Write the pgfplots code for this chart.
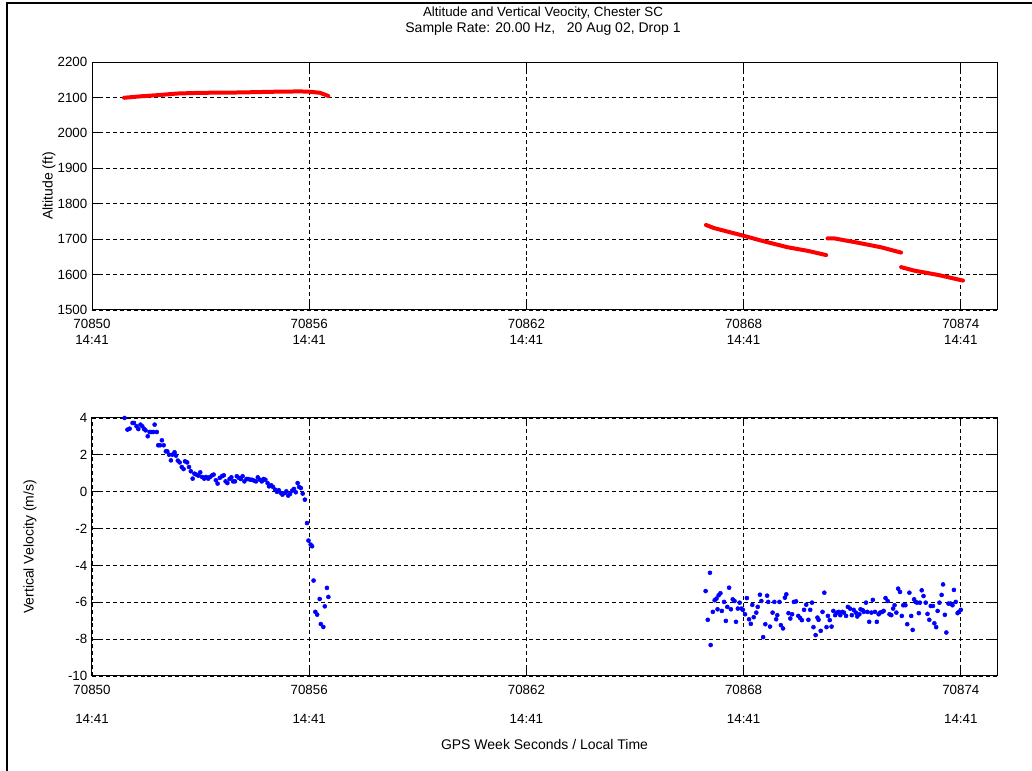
\documentclass[border=0pt]{standalone}
\usepackage{pgfplots}
\pgfplotsset{compat=1.18}
\usepackage{fontspec}
\setmainfont{Liberation Sans}
\begin{document}
\begin{tikzpicture}
\useasboundingbox (0,0) rectangle (774pt,578.25pt);
\draw[line width=1.5pt] (5.25pt,0) -- (5.25pt,576pt) -- (774pt,576pt);
\node[align=center, font=\fontsize{10.5}{12}\selectfont, anchor=center] at (407.25pt,562.5pt)
  {{\fontsize{10}{12}\selectfont Altitude and Vertical Veocity, Chester SC}\\Sample Rate: 20.00 Hz,\ \ \ 20 Aug 02,\ Drop 1};
\pgfplotsset{
  mystyle/.style={
    scale only axis, width=678.75pt,
    xmin=70850, xmax=70875,
    xtick={70850,70856,70862,70868,70874},
    scaled x ticks=false, scaled y ticks=false,
    grid=major,
    major grid style={black, line width=0.6pt, dash pattern=on 3pt off 2.2pt},
    axis line style={black, line width=0.75pt},
    tick style={black, line width=0.75pt},
    major tick length=6pt,
    tick align=inside,
    tick label style={font=\fontsize{10}{12}\selectfont},
    label style={font=\fontsize{10.5}{12}\selectfont},
    xticklabel style={align=center, yshift=-3pt},
    clip=false,
  }
}
\begin{axis}[mystyle,
  at={(69pt,345.75pt)}, anchor=south west, height=186pt,
  ymin=1500, ymax=2200, ytick={1500,1600,...,2200},
  yticklabels={1500,1600,1700,1800,1900,2000,2100,2200},
  xticklabels={70850\\14:41,70856\\14:41,70862\\14:41,70868\\14:41,70874\\14:41},
  ylabel={Altitude (ft)},
  ylabel style={at={(axis description cs:-0.0475,0.5)}, anchor=center},
]
\addplot[red, line width=3pt, line cap=round, line join=round] coordinates {
(70850.885,2099) (70851.33,2103) (70851.88,2107) (70852.35,2111) (70852.99,2113)
(70854.09,2114) (70855.0,2116) (70855.75,2117) (70856.03,2116) (70856.3,2113) (70856.53,2104)
};
\addplot[red, line width=3pt, line cap=round, line join=round] coordinates {
(70866.96,1740) (70867.19,1731) (70868.02,1709) (70868.48,1696) (70869.22,1677) (70869.77,1667) (70870.28,1655)
};
\addplot[red, line width=3pt, line cap=round, line join=round] coordinates {
(70870.32,1702) (70870.51,1702) (70871.15,1690) (70871.80,1677) (70872.35,1662)
};
\addplot[red, line width=3pt, line cap=round, line join=round] coordinates {
(70872.35,1621) (70872.72,1611) (70873.37,1599) (70874.06,1583)
};
\end{axis}
\begin{axis}[mystyle,
  at={(69pt,71.25pt)}, anchor=south west, height=193.5pt,
  ymin=-10, ymax=4, ytick={-10,-8,...,4},
  yticklabels={-10,-8,-6,-4,-2,0,2,4},
  xticklabels={70850\\[10pt]14:41,70856\\[10pt]14:41,70862\\[10pt]14:41,70868\\[10pt]14:41,70874\\[10pt]14:41},
  ylabel={Vertical Velocity (m/s)},
  ylabel style={at={(axis description cs:-0.0685,0.5)}, anchor=center},
  xlabel={GPS Week Seconds / Local Time},
  xlabel style={at={(axis description cs:0.5,-0.267)}, anchor=center},
]
\addplot[only marks, blue, mark=*, mark size=1.5pt, mark options={draw=blue, fill=blue}] coordinates {
(70850.90,4.0) (70850.98,3.37) (70851.04,3.42) (70851.12,3.73) (70851.16,3.73) (70851.23,3.55)
(70851.28,3.40) (70851.34,3.64) (70851.39,3.55) (70851.44,3.40) (70851.48,3.33) (70851.54,3.01)
(70851.59,3.24) (70851.63,3.24) (70851.69,3.24) (70851.73,3.64) (70851.79,3.24) (70851.83,2.52)
(70851.88,2.52) (70851.93,2.79) (70851.98,2.52) (70852.04,2.19) (70852.08,2.19) (70852.13,2.01)
(70852.18,1.70) (70852.22,2.01) (70852.28,2.14) (70852.32,1.96) (70852.37,1.69) (70852.42,1.59)
(70852.48,1.34) (70852.53,1.23) (70852.57,1.65) (70852.63,1.59) (70852.68,1.34) (70852.73,1.11)
(70852.78,0.71) (70852.83,0.98) (70852.88,0.93) (70852.94,0.87) (70852.99,1.05) (70853.04,0.80)
(70853.10,0.71) (70853.15,0.80) (70853.21,0.71) (70853.26,0.80) (70853.32,0.89) (70853.36,0.93)
(70853.42,0.62) (70853.47,0.44) (70853.53,0.75) (70853.59,0.84) (70853.64,0.89) (70853.69,0.56)
(70853.74,0.47) (70853.80,0.69) (70853.85,0.78) (70853.90,0.56) (70853.95,0.56) (70854.00,0.84)
(70854.06,0.75) (70854.11,0.69) (70854.16,0.84) (70854.21,0.56) (70854.27,0.69) (70854.31,0.69)
(70854.37,0.65) (70854.42,0.65) (70854.48,0.60) (70854.53,0.56) (70854.58,0.78) (70854.64,0.65)
(70854.69,0.56) (70854.74,0.69) (70854.79,0.65) (70854.85,0.47) (70854.89,0.29) (70854.95,0.35)
(70855.00,0.26) (70855.06,0.11) (70855.11,-0.01) (70855.16,0.08) (70855.22,-0.07) (70855.26,-0.16)
(70855.32,-0.07) (70855.37,0.02) (70855.42,-0.21) (70855.47,-0.12) (70855.53,0.06) (70855.58,0.15)
(70855.63,-0.03) (70855.68,0.47) (70855.72,0.26) (70855.77,0.20) (70855.82,-0.10) (70855.88,-0.43)
(70855.94,-1.70) (70855.98,-2.65) (70856.04,-2.87) (70856.08,-2.96) (70856.12,-4.82) (70856.17,-6.52)
(70856.22,-6.67) (70856.29,-5.82) (70856.32,-7.18) (70856.39,-7.34) (70856.43,-6.22) (70856.49,-5.22)
(70856.53,-5.71)
};
\addplot[only marks, blue, mark=*, mark size=1.5pt, mark options={draw=blue, fill=blue}] coordinates {
(70866.95,-5.39) (70867.01,-6.95) (70867.07,-4.40) (70867.09,-8.32) (70867.15,-6.52) (70867.20,-5.89)
(70867.25,-5.80) (70867.28,-6.38) (70867.31,-5.62) (70867.36,-5.51) (70867.40,-6.47) (70867.46,-5.98)
(70867.51,-7.01) (70867.55,-6.25) (70867.60,-5.21) (70867.65,-6.38) (70867.70,-5.84) (70867.75,-5.93)
(70867.79,-7.06) (70867.84,-6.34) (70867.89,-6.02) (70867.94,-6.34) (70867.98,-6.41) (70868.04,-6.65)
(70868.09,-5.77) (70868.15,-6.92) (70868.20,-7.17) (70868.24,-6.14) (70868.28,-6.81) (70868.35,-6.56)
(70868.39,-6.25) (70868.45,-5.59) (70868.49,-5.93) (70868.54,-7.89) (70868.60,-7.19) (70868.65,-5.64)
(70868.68,-5.98) (70868.73,-7.32) (70868.80,-6.56) (70868.85,-5.98) (70868.90,-6.92) (70868.93,-6.70)
(70868.99,-5.98) (70869.03,-7.24) (70869.09,-7.42) (70869.14,-5.75) (70869.18,-5.57) (70869.24,-6.59)
(70869.29,-6.88) (70869.34,-6.65) (70869.39,-5.98) (70869.45,-5.95) (70869.51,-6.74) (70869.56,-6.85)
(70869.61,-6.97) (70869.67,-6.41) (70869.73,-6.13) (70869.79,-6.95) (70869.84,-6.41) (70869.89,-6.02)
(70869.93,-7.35) (70869.99,-7.78) (70870.04,-6.83) (70870.07,-6.95) (70870.13,-7.55) (70870.18,-6.52)
(70870.23,-5.48) (70870.29,-7.35) (70870.33,-6.74) (70870.38,-6.97) (70870.43,-7.32) (70870.48,-6.47)
(70870.53,-6.70) (70870.58,-6.56) (70870.63,-6.52) (70870.67,-6.70) (70870.73,-6.52) (70870.77,-6.56)
(70870.83,-6.74) (70870.88,-6.25) (70870.94,-6.34) (70870.99,-6.70) (70871.04,-6.41) (70871.10,-6.56)
(70871.14,-6.77) (70871.20,-6.65) (70871.23,-6.38) (70871.29,-6.43) (70871.32,-6.52) (70871.38,-6.02)
(70871.42,-6.52) (70871.47,-7.06) (70871.53,-6.56) (70871.57,-5.87) (70871.63,-6.52) (70871.68,-7.06)
(70871.73,-6.65) (70871.77,-6.56) (70871.83,-6.52) (70871.87,-6.47) (70871.92,-5.77) (70871.98,-5.93)
(70872.03,-6.65) (70872.08,-6.70) (70872.13,-6.34) (70872.17,-6.16) (70872.22,-6.56) (70872.27,-5.26)
(70872.32,-5.44) (70872.37,-6.74) (70872.41,-6.16) (70872.47,-6.16) (70872.52,-7.19) (70872.58,-5.48)
(70872.63,-6.74) (70872.67,-7.50) (70872.71,-5.84) (70872.75,-5.98) (70872.79,-6.02) (70872.84,-6.59)
(70872.87,-6.02) (70872.92,-5.35) (70872.97,-5.66) (70873.03,-6.02) (70873.08,-6.63) (70873.13,-6.95)
(70873.17,-6.20) (70873.23,-6.20) (70873.27,-7.14) (70873.32,-7.35) (70873.36,-6.47) (70873.41,-6.02)
(70873.47,-5.60) (70873.51,-5.03) (70873.56,-6.68) (70873.60,-7.64) (70873.66,-6.07) (70873.72,-6.07)
(70873.77,-6.16) (70873.81,-5.33) (70873.86,-5.98) (70873.91,-6.59) (70873.95,-6.52) (70874.00,-6.41)
};
\end{axis}
\end{tikzpicture}
\end{document}
